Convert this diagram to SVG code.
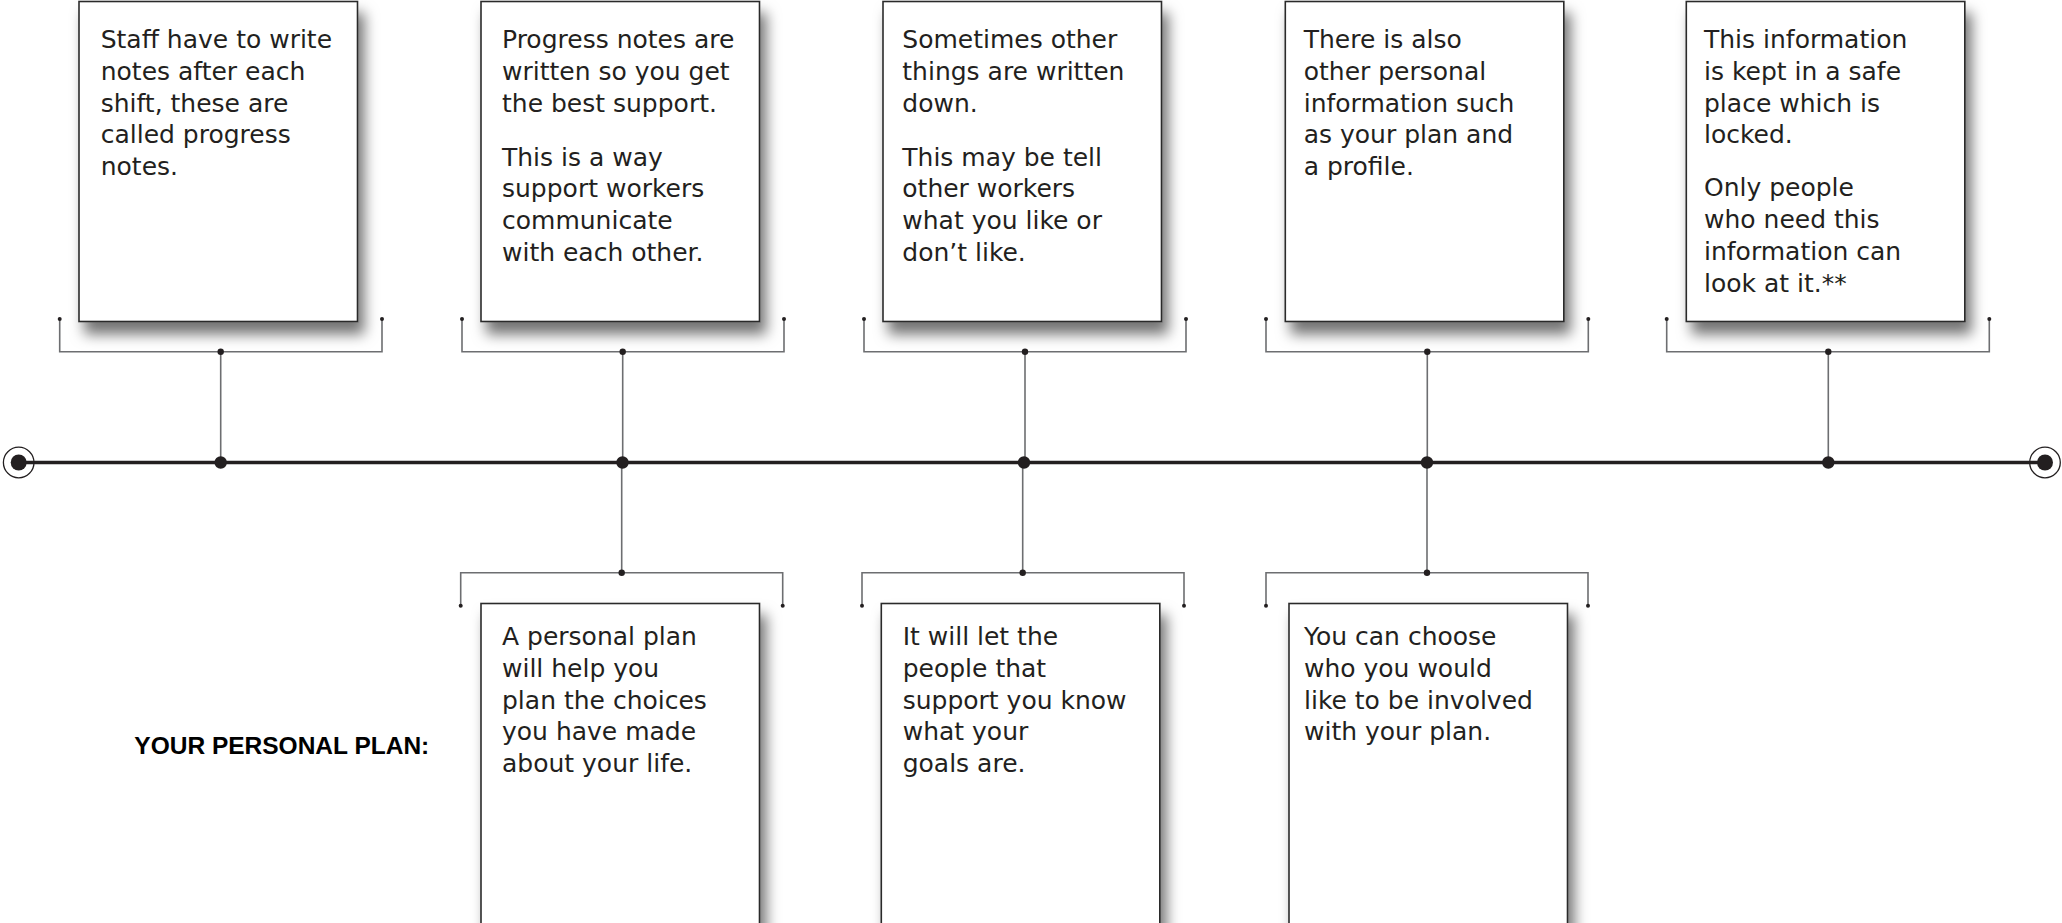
<svg xmlns="http://www.w3.org/2000/svg" width="2062" height="923" viewBox="0 0 2062 923">
  <defs>
    <filter id="shadow" x="-10%" y="-10%" width="130%" height="130%">
      <feDropShadow dx="6" dy="12" stdDeviation="7" flood-color="#000" flood-opacity="0.55"/>
    </filter>
    <style>
      .box { fill: #ffffff; stroke: #2b2b2b; stroke-width: 1.6; }
      .txt { font-family: "DejaVu Sans", sans-serif; font-size: 25px; fill: #231f20; }
      .title { font-family: "Liberation Sans", Arial, sans-serif; font-size: 24.5px; font-weight: bold; fill: #000; }
      .brk { fill: none; stroke: #6d6e71; stroke-width: 1.6; }
      .main { stroke: #231f20; stroke-width: 3.4; }
      .dot { fill: #231f20; }
      .ring { fill: none; stroke: #231f20; stroke-width: 1.3; }
    </style>
  </defs>
  <rect width="2062" height="923" fill="#ffffff"/>

  <g id="connectors">
    <line class="main" x1="18.7" y1="462.5" x2="2045" y2="462.5"/>
    <path class="brk" d="M59.7,319 V351.7 H382 V319 M220.7,351.7 V462.5"/>
    <path class="brk" d="M462,319 V351.7 H784 V319 M622.7,351.7 V462.5"/>
    <path class="brk" d="M864,319 V351.7 H1186 V319 M1025,351.7 V462.5"/>
    <path class="brk" d="M1266,319 V351.7 H1588.3 V319 M1427.3,351.7 V462.5"/>
    <path class="brk" d="M1666.7,319 V351.7 H1989.3 V319 M1828.3,351.7 V462.5"/>
    <path class="brk" d="M460.7,605.7 V572.7 H782.7 V605.7 M621.7,572.7 V462.5"/>
    <path class="brk" d="M862,605.7 V572.7 H1184 V605.7 M1022.7,572.7 V462.5"/>
    <path class="brk" d="M1266,605.7 V572.7 H1588 V605.7 M1427,572.7 V462.5"/>
    <g class="dot">
      <circle cx="59.7" cy="319" r="2"/><circle cx="382" cy="319" r="2"/><circle cx="220.7" cy="351.7" r="3.2"/>
      <circle cx="462" cy="319" r="2"/><circle cx="784" cy="319" r="2"/><circle cx="622.7" cy="351.7" r="3.2"/>
      <circle cx="864" cy="319" r="2"/><circle cx="1186" cy="319" r="2"/><circle cx="1025" cy="351.7" r="3.2"/>
      <circle cx="1266" cy="319" r="2"/><circle cx="1588.3" cy="319" r="2"/><circle cx="1427.3" cy="351.7" r="3.2"/>
      <circle cx="1666.7" cy="319" r="2"/><circle cx="1989.3" cy="319" r="2"/><circle cx="1828.3" cy="351.7" r="3.2"/>
      <circle cx="460.7" cy="605.7" r="2"/><circle cx="782.7" cy="605.7" r="2"/><circle cx="621.7" cy="572.7" r="3.2"/>
      <circle cx="862" cy="605.7" r="2"/><circle cx="1184" cy="605.7" r="2"/><circle cx="1022.7" cy="572.7" r="3.2"/>
      <circle cx="1266" cy="605.7" r="2"/><circle cx="1588" cy="605.7" r="2"/><circle cx="1427" cy="572.7" r="3.2"/>
      <circle cx="220.7" cy="462.5" r="6.2"/>
      <circle cx="622.5" cy="462.5" r="6.2"/>
      <circle cx="1024" cy="462.5" r="6.2"/>
      <circle cx="1427" cy="462.5" r="6.2"/>
      <circle cx="1828.3" cy="462.5" r="6.2"/>
      <circle cx="18.7" cy="462.5" r="8"/>
      <circle cx="2045" cy="462.5" r="8"/>
    </g>
    <circle class="ring" cx="18.7" cy="462.5" r="15.3"/>
    <circle class="ring" cx="2045" cy="462.5" r="15.3"/>
  </g>

  <g id="node-top-1">
    <rect class="box" x="79" y="1.5" width="278.5" height="320" filter="url(#shadow)"/>
    <text class="txt" x="100.7" y="48"><tspan x="100.7">Staff have to write</tspan><tspan x="100.7" dy="31.8">notes after each</tspan><tspan x="100.7" dy="31.8">shift, these are</tspan><tspan x="100.7" dy="31.8">called progress</tspan><tspan x="100.7" dy="31.8">notes.</tspan></text>
  </g>

  <g id="node-top-2">
    <rect class="box" x="481" y="1.5" width="278.5" height="320" filter="url(#shadow)"/>
    <text class="txt" x="502" y="48"><tspan x="502">Progress notes are</tspan><tspan x="502" dy="31.8">written so you get</tspan><tspan x="502" dy="31.8">the best support.</tspan><tspan x="502" dy="54">This is a way</tspan><tspan x="502" dy="31.8">support workers</tspan><tspan x="502" dy="31.8">communicate</tspan><tspan x="502" dy="31.8">with each other.</tspan></text>
  </g>

  <g id="node-top-3">
    <rect class="box" x="883" y="1.5" width="278.5" height="320" filter="url(#shadow)"/>
    <text class="txt" x="902.3" y="48"><tspan x="902.3">Sometimes other</tspan><tspan x="902.3" dy="31.8">things are written</tspan><tspan x="902.3" dy="31.8">down.</tspan><tspan x="902.3" dy="54">This may be tell</tspan><tspan x="902.3" dy="31.8">other workers</tspan><tspan x="902.3" dy="31.8">what you like or</tspan><tspan x="902.3" dy="31.8">don’t like.</tspan></text>
  </g>

  <g id="node-top-4">
    <rect class="box" x="1285.3" y="1.5" width="278.5" height="320" filter="url(#shadow)"/>
    <text class="txt" x="1303.7" y="48"><tspan x="1303.7">There is also</tspan><tspan x="1303.7" dy="31.8">other personal</tspan><tspan x="1303.7" dy="31.8">information such</tspan><tspan x="1303.7" dy="31.8">as your plan and</tspan><tspan x="1303.7" dy="31.8">a profile.</tspan></text>
  </g>

  <g id="node-top-5">
    <rect class="box" x="1686.3" y="1.5" width="278.5" height="320" filter="url(#shadow)"/>
    <text class="txt" x="1704" y="48"><tspan x="1704">This information</tspan><tspan x="1704" dy="31.8">is kept in a safe</tspan><tspan x="1704" dy="31.8">place which is</tspan><tspan x="1704" dy="31.8">locked.</tspan><tspan x="1704" dy="53">Only people</tspan><tspan x="1704" dy="31.8">who need this</tspan><tspan x="1704" dy="31.8">information can</tspan><tspan x="1704" dy="31.8">look at it.**</tspan></text>
  </g>

  <g id="node-bottom-1">
    <rect class="box" x="481" y="603.5" width="278.5" height="340" filter="url(#shadow)"/>
    <text class="txt" x="502" y="645"><tspan x="502">A personal plan</tspan><tspan x="502" dy="31.8">will help you</tspan><tspan x="502" dy="31.8">plan the choices</tspan><tspan x="502" dy="31.8">you have made</tspan><tspan x="502" dy="31.8">about your life.</tspan></text>
  </g>

  <g id="node-bottom-2">
    <rect class="box" x="881.3" y="603.5" width="278.5" height="340" filter="url(#shadow)"/>
    <text class="txt" x="902.7" y="645"><tspan x="902.7">It will let the</tspan><tspan x="902.7" dy="31.8">people that</tspan><tspan x="902.7" dy="31.8">support you know</tspan><tspan x="902.7" dy="31.8">what your</tspan><tspan x="902.7" dy="31.8">goals are.</tspan></text>
  </g>

  <g id="node-bottom-3">
    <rect class="box" x="1289" y="603.5" width="278.5" height="340" filter="url(#shadow)"/>
    <text class="txt" x="1304" y="645"><tspan x="1304">You can choose</tspan><tspan x="1304" dy="31.8">who you would</tspan><tspan x="1304" dy="31.8">like to be involved</tspan><tspan x="1304" dy="31.8">with your plan.</tspan></text>
  </g>

  <g id="label">
    <text class="title" x="134.3" y="754.3">YOUR PERSONAL PLAN:</text>
  </g>
</svg>
